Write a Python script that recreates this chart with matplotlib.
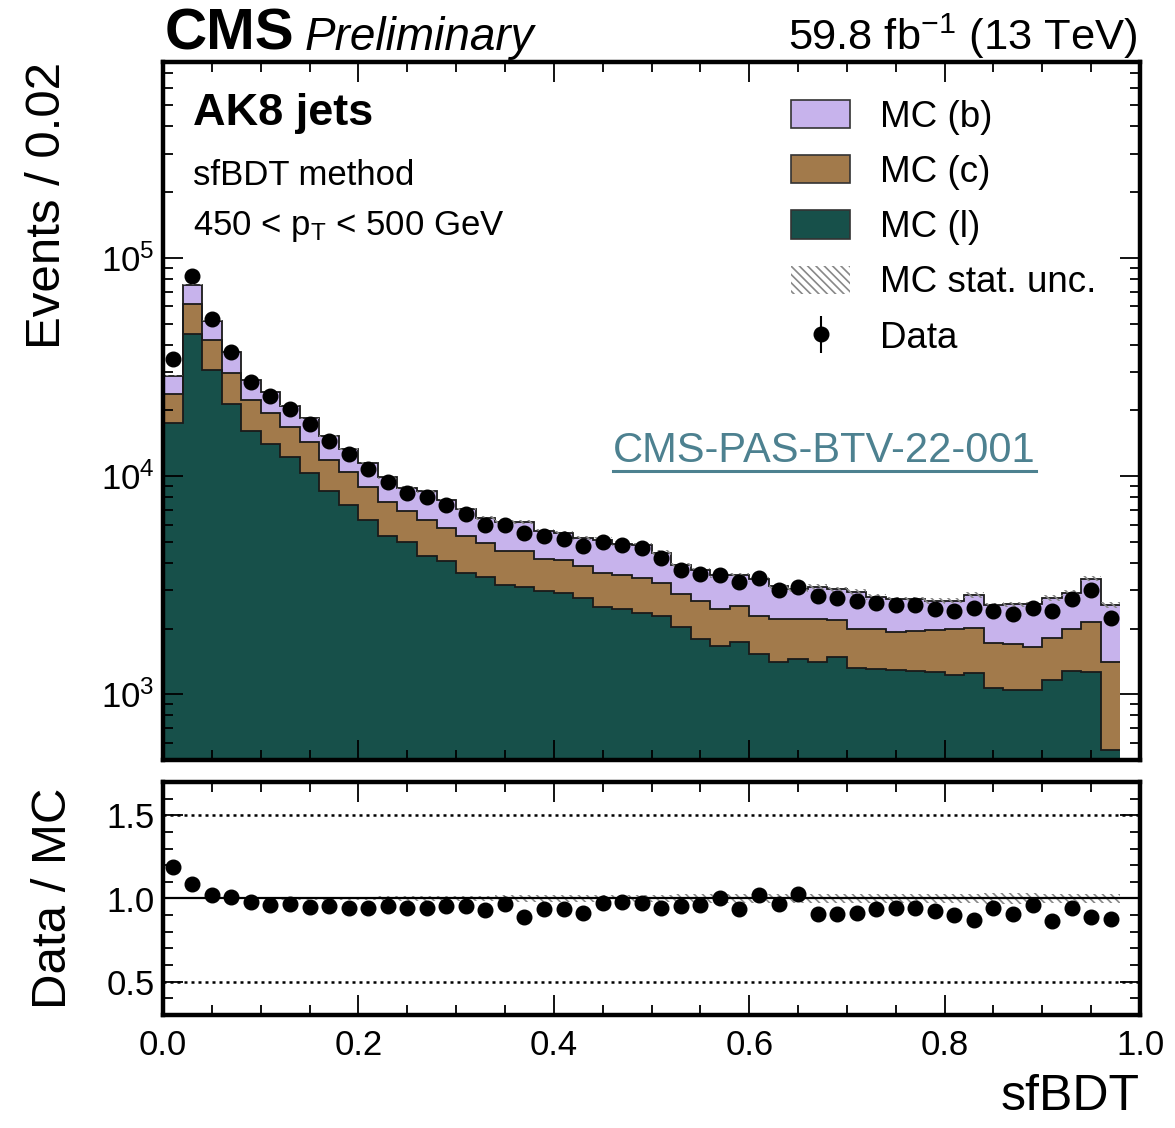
import numpy as np
import matplotlib
matplotlib.use("Agg")
import matplotlib.pyplot as plt
from matplotlib.patches import Patch
from matplotlib.lines import Line2D
from matplotlib.ticker import MultipleLocator, LogLocator, NullFormatter, FixedLocator

plt.rcParams['font.family'] = ['Liberation Sans', 'DejaVu Sans']
plt.rcParams['mathtext.fontset'] = 'custom'
plt.rcParams['mathtext.rm'] = 'Liberation Sans'
plt.rcParams['mathtext.it'] = 'Liberation Sans:italic'
plt.rcParams['mathtext.bf'] = 'Liberation Sans:bold'
plt.rcParams['hatch.linewidth'] = 1.2

# ---------------- data ----------------
bin_edges = np.round(np.arange(0, 0.98 + 1e-9, 0.02), 2)

# cumulative stack tops
top_b = [28900, 75500, 51640, 36860, 27660, 24290, 21020, 18390, 15210, 13360,
         11490, 9870, 8860, 8520, 7730, 7030, 6440, 6150, 6150, 5630,
         5495, 5215, 5120, 4910, 4810, 4455, 3910, 3706, 3505, 3505,
         3360, 3131, 3025, 3100, 3025, 2939, 2800, 2722, 2722, 2673,
         2690, 2860, 2554, 2580, 2580, 2771, 2920, 3386, 2563]
top_c = [23860, 61400, 42150, 29670, 22230, 19460, 16800, 14380, 11900, 10490,
         8930, 7620, 6950, 6300, 5790, 5300, 4950, 4530, 4560, 4180,
         4120, 3892, 3605, 3507, 3420, 3245, 2885, 2673, 2467, 2536,
         2283, 2205, 2222, 2205, 2190, 1983, 1998, 1928, 1950, 1963,
         1983, 2010, 1711, 1700, 1652, 1817, 1998, 2153, 1406]
mc_l = [17440, 44560, 30720, 21320, 16160, 14040, 12280, 10340, 8580, 7410,
        6260, 5340, 5010, 4300, 4074, 3605, 3440, 3160, 3100, 2960,
        2920, 2750, 2510, 2449, 2348, 2283, 2043, 1786, 1663, 1735,
        1524, 1406, 1457, 1406, 1489, 1325, 1310, 1288, 1281, 1262,
        1222, 1250, 1064, 1047, 1047, 1163, 1281, 1262, 556]
data = [34400, 82300, 52700, 37100, 27100, 23300, 20300, 17400, 14500, 12560,
        10800, 9400, 8370, 8030, 7370, 6700, 6000, 5950, 5470, 5290,
        5140, 4770, 4970, 4810, 4670, 4210, 3730, 3560, 3505, 3280,
        3430, 3020, 3100, 2820, 2750, 2675, 2620, 2560, 2560, 2470,
        2420, 2490, 2410, 2335, 2480, 2400, 2745, 3010, 2240]
rel_stat_unc = [0.004, 0.003, 0.004, 0.005, 0.006, 0.007, 0.008, 0.009, 0.010, 0.011,
                0.012, 0.013, 0.014, 0.015, 0.016, 0.017, 0.018, 0.019, 0.020, 0.020,
                0.021, 0.022, 0.022, 0.023, 0.024, 0.024, 0.025, 0.025, 0.026, 0.026,
                0.027, 0.027, 0.028, 0.028, 0.028, 0.029, 0.029, 0.030, 0.030, 0.030,
                0.030, 0.030, 0.031, 0.031, 0.031, 0.030, 0.030, 0.028, 0.030]

mc_l = np.array(mc_l, float)
mc_c = np.array(top_c, float) - mc_l
mc_b = np.array(top_b, float) - np.array(top_c, float)
data = np.array(data, float)
rel_stat_unc = np.array(rel_stat_unc)

col_b = '#c7b3ec'
col_c = '#a27a4b'
col_l = '#17504a'

# ---------------- figure ----------------
fig = plt.figure(figsize=(11.75, 11.28), dpi=100)
L, R = 163 / 1175, 1140 / 1175
ax = fig.add_axes([L, 1 - 760 / 1128, R - L, (760 - 62) / 1128])
rax = fig.add_axes([L, 1 - 1015 / 1128, R - L, (1015 - 782) / 1128], sharex=ax)

centers = 0.5 * (bin_edges[:-1] + bin_edges[1:])
s_l = mc_l
s_c = mc_l + mc_c
s_b = s_c + mc_b

ax.stairs(s_l, bin_edges, baseline=1, fill=True, color=col_l)
ax.stairs(s_c, bin_edges, baseline=s_l, fill=True, color=col_c)
ax.stairs(s_b, bin_edges, baseline=s_c, fill=True, color=col_b)
for s in (s_l, s_c, s_b):
    ax.stairs(s, bin_edges, baseline=None, color='#1a1a1a', lw=1.3)

# stat unc band
unc_lo = s_b * (1 - rel_stat_unc)
unc_hi = s_b * (1 + rel_stat_unc)
ax.stairs(unc_hi, bin_edges, baseline=unc_lo, fill=True, facecolor='none',
          edgecolor='#888888', hatch='\\\\\\\\', lw=0)

eb = ax.errorbar(centers, data, yerr=np.sqrt(data), fmt='o', color='black',
                 markersize=10.5, elinewidth=1.5, capsize=0)

ax.set_yscale('log')
ax.set_ylim(500, 7.9e5)
ax.set_xlim(0, 1)
ax.set_ylabel('Events / 0.02', fontsize=35.5, loc='top', labelpad=22)

# ratio
ratio = data / s_b
rax.stairs(1 + rel_stat_unc, bin_edges, baseline=1 - rel_stat_unc, fill=True,
           facecolor='none', edgecolor='#888888', hatch='\\\\\\\\', lw=0)
rax.axhline(1.0, color='black', lw=1.6)
for yv in (0.5, 1.5):
    rax.axhline(yv, color='black', lw=1.8, ls=(0, (1.2, 1.6)))
rax.errorbar(centers, ratio, yerr=np.sqrt(data) / s_b, fmt='o', color='black',
             markersize=10.5, elinewidth=1.5, capsize=0)
rax.set_ylim(0.3, 1.7)
rax.set_xlim(0, 1)
rax.set_ylabel('Data / MC', fontsize=35.5, labelpad=22)
rax.set_xlabel('sfBDT', fontsize=36, loc='right', labelpad=9)

# ticks & frames
for a in (ax, rax):
    for sp in a.spines.values():
        sp.set_linewidth(3.2)
    a.tick_params(which='both', direction='in', top=True, right=True, width=1.3,
                  labelsize=25)
    a.tick_params(which='major', length=14.5)
    a.tick_params(which='minor', length=7.2)
    a.xaxis.set_major_locator(MultipleLocator(0.2))
    a.xaxis.set_minor_locator(MultipleLocator(0.05))
ax.tick_params(axis='x', which='both', labelbottom=False)
ax.tick_params(axis='y', pad=6)
ax.yaxis.set_major_locator(LogLocator(base=10, numticks=10))
ax.yaxis.set_minor_locator(LogLocator(base=10, subs=np.arange(2, 10), numticks=20))
ax.yaxis.set_minor_formatter(NullFormatter())
rax.yaxis.set_major_locator(FixedLocator([0.5, 1.0, 1.5]))
rax.yaxis.set_minor_locator(MultipleLocator(0.1))
rax.yaxis.set_major_formatter(matplotlib.ticker.FormatStrFormatter('%.1f'))
rax.tick_params(axis='x', pad=10)
rax.tick_params(axis='y', pad=6)

fig.align_ylabels([ax, rax])

# legend
handles = [Patch(facecolor=col_b, edgecolor='#333333', lw=1.2),
           Patch(facecolor=col_c, edgecolor='#333333', lw=1.2),
           Patch(facecolor=col_l, edgecolor='#333333', lw=1.2),
           Patch(facecolor='none', edgecolor='#888888', hatch='\\\\\\\\', lw=0),
           eb]
labels = ['MC (b)', 'MC (c)', 'MC (l)', 'MC stat. unc.', 'Data']
leg = ax.legend(handles, labels, loc='upper left', bbox_to_anchor=(0.628, 0.967),
                fontsize=26.5, frameon=False, handlelength=1.6, handleheight=0.8,
                handletextpad=0.8, labelspacing=0.55, borderaxespad=0)

# texts
ax.text(0.0307, 0.9097, 'AK8 jets', transform=ax.transAxes, fontsize=32.5,
        fontweight='bold', va='baseline')
ax.text(0.0307, 0.824, 'sfBDT method', transform=ax.transAxes, fontsize=25,
        va='baseline')
ax.text(0.0307, 0.752, r'450 < p$_{\mathrm{T}}$ < 500 GeV', transform=ax.transAxes,
        fontsize=25, va='baseline')

fig.text(165 / 1175, 1 - 50 / 1128, 'CMS', fontsize=42, fontweight='bold', va='baseline')
fig.text(305 / 1175, 1 - 50 / 1128, 'Preliminary', fontsize=33, style='italic', va='baseline')
fig.text(1137 / 1175, 1 - 50 / 1128, r'59.8 fb$^{-1}$ (13 TeV)', fontsize=31.3,
         ha='right', va='baseline')

link = ax.text((613 - 163) / 977, (760 - 462) / 698, 'CMS-PAS-BTV-22-001',
               transform=ax.transAxes, fontsize=30, color='#4d8190', va='baseline')
fig.canvas.draw()
bb = link.get_window_extent()
inv = fig.transFigure.inverted()
(x0, y0), (x1, y1) = inv.transform([[bb.x0, bb.y0], [bb.x1, bb.y1]])
fig.add_artist(Line2D([x0, x1], [y0, y0], transform=fig.transFigure,
                      color='#4d8190', lw=2.2))

fig.savefig('out.png', dpi=100)
